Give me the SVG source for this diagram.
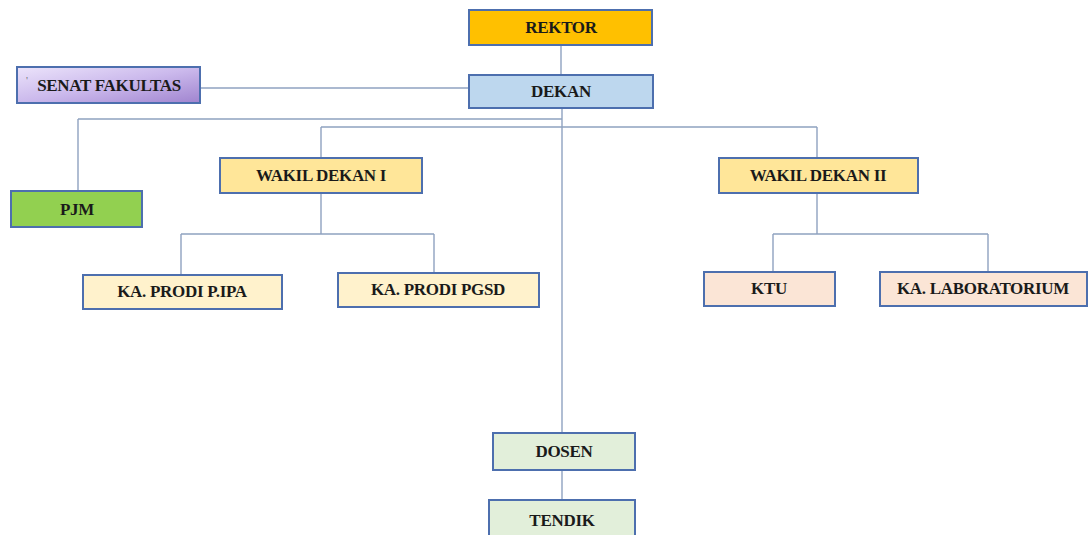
<svg xmlns="http://www.w3.org/2000/svg" width="1089" height="535" viewBox="0 0 1089 535">
<defs>
<linearGradient id="senat" x1="0" y1="0" x2="1" y2="1">
<stop offset="0" stop-color="#ece4fb"/>
<stop offset="0.5" stop-color="#cbb9ec"/>
<stop offset="1" stop-color="#a084cf"/>
</linearGradient>
<style>
.b{stroke:#4d6fae;stroke-width:2}
.t{font-family:"Liberation Serif","Times New Roman",serif;font-weight:bold;font-size:17px;letter-spacing:-0.3px;fill:#1a1a1a;text-anchor:middle}
.c{stroke:#8fa2c0;stroke-width:1.4;fill:none}
</style>
</defs>
<rect width="1089" height="535" fill="#ffffff"/>
<g id="connectors">
<path class="c" d="M561 45V75"/>
<path class="c" d="M200 88H469"/>
<path class="c" d="M562 108V433"/>
<path class="c" d="M78 119H562M78 119V191"/>
<path class="c" d="M321 127H817M321 127V158M817 127V158"/>
<path class="c" d="M321 193V234M181 234H434M181 234V275M434 234V273"/>
<path class="c" d="M817 193V234M773 234H988M773 234V272M988 234V272"/>
<path class="c" d="M562 470V500"/>
</g>
<g id="rektor"><rect class="b" x="469" y="10" width="183" height="35" fill="#ffc000"/><text class="t" x="561" y="33">REKTOR</text></g>
<g id="dekan"><rect class="b" x="469" y="75" width="184" height="33" fill="#bdd7ee"/><text class="t" x="561" y="97">DEKAN</text></g>
<g id="senat-fakultas"><rect class="b" x="17" y="67" width="183" height="36" fill="url(#senat)"/><text x="26" y="84" font-family="Liberation Serif,serif" font-size="11" fill="#777">'</text><text class="t" x="109" y="91">SENAT FAKULTAS</text></g>
<g id="pjm"><rect class="b" x="11" y="191" width="131" height="36" fill="#92d050"/><text class="t" x="77" y="215">PJM</text></g>
<g id="wakil-dekan-1"><rect class="b" x="220" y="158" width="202" height="35" fill="#ffe699"/><text class="t" x="321" y="181">WAKIL DEKAN I</text></g>
<g id="wakil-dekan-2"><rect class="b" x="719" y="158" width="199" height="35" fill="#ffe699"/><text class="t" x="818" y="181">WAKIL DEKAN II</text></g>
<g id="ka-prodi-pipa"><rect class="b" x="83" y="275" width="199" height="34" fill="#fff2cc"/><text class="t" x="182" y="297">KA. PRODI P.IPA</text></g>
<g id="ka-prodi-pgsd"><rect class="b" x="338" y="273" width="201" height="34" fill="#fff2cc"/><text class="t" x="438" y="295">KA. PRODI PGSD</text></g>
<g id="ktu"><rect class="b" x="704" y="272" width="131" height="34" fill="#fbe5d6"/><text class="t" x="769" y="294">KTU</text></g>
<g id="ka-laboratorium"><rect class="b" x="880" y="272" width="207" height="34" fill="#fbe5d6"/><text class="t" x="983" y="294">KA. LABORATORIUM</text></g>
<g id="dosen"><rect class="b" x="493" y="433" width="142" height="37" fill="#e2efda"/><text class="t" x="564" y="457">DOSEN</text></g>
<g id="tendik"><rect class="b" x="489" y="500" width="146" height="38" fill="#e2efda"/><text class="t" x="562" y="526">TENDIK</text></g>
</svg>
